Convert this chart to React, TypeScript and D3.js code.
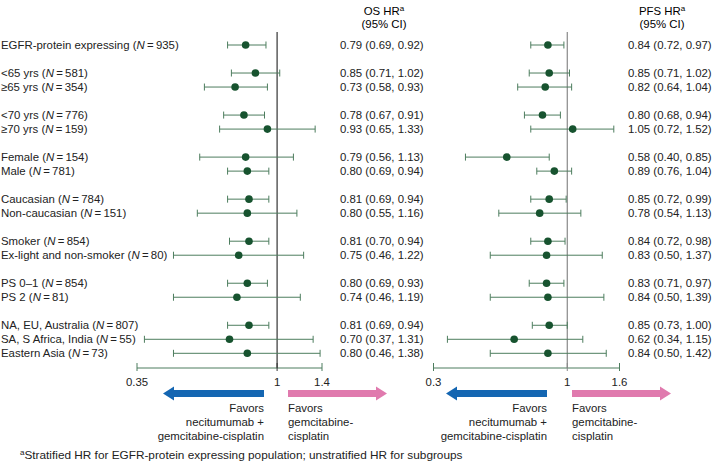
import React from "react";
import * as d3 from "d3";

// subgroup rows (slot = vertical position index, gaps between groups)
const labels = [
  "EGFR-protein expressing", "<65 yrs", "≥65 yrs", "<70 yrs", "≥70 yrs",
  "Female", "Male", "Caucasian", "Non-caucasian", "Smoker",
  "Ex-light and non-smoker", "PS 0–1", "PS 2", "NA, EU, Australia",
  "SA, S Africa, India", "Eastern Asia",
];
const nValues = [935, 581, 354, 776, 159, 154, 781, 784, 151, 854, 80, 854, 81, 807, 55, 73];
const slots = [0, 2, 3, 5, 6, 8, 9, 11, 12, 14, 15, 17, 18, 20, 21, 22];

const osHR = [0.79, 0.85, 0.73, 0.78, 0.93, 0.79, 0.80, 0.81, 0.80, 0.81, 0.75, 0.80, 0.74, 0.81, 0.70, 0.80];
const osLow = [0.69, 0.71, 0.58, 0.67, 0.65, 0.56, 0.69, 0.69, 0.55, 0.70, 0.46, 0.69, 0.46, 0.69, 0.37, 0.46];
const osHigh = [0.92, 1.02, 0.93, 0.91, 1.33, 1.13, 0.94, 0.94, 1.16, 0.94, 1.22, 0.93, 1.19, 0.94, 1.31, 1.38];

const pfsHR = [0.84, 0.85, 0.82, 0.80, 1.05, 0.58, 0.89, 0.85, 0.78, 0.84, 0.83, 0.83, 0.84, 0.85, 0.62, 0.84];
const pfsLow = [0.72, 0.71, 0.64, 0.68, 0.72, 0.40, 0.76, 0.72, 0.54, 0.72, 0.50, 0.71, 0.50, 0.73, 0.34, 0.50];
const pfsHigh = [0.97, 1.02, 1.04, 0.94, 1.52, 0.85, 1.04, 0.99, 1.13, 0.98, 1.37, 0.97, 1.39, 1.00, 1.15, 1.42];

const osTicks = [0.35, 1, 1.4];
const pfsTicks = [0.3, 1, 1.6];

const FONT = "'Liberation Sans', Arial, Helvetica, sans-serif";
const FS = 11.4;
const BAR = "#4d7d5e";
const DOT = "#17532f";
const BLUE = "#1466b2";
const PINK = "#e07aae";

const y = d3.scaleLinear().domain([0, 22]).range([45, 353.3]);
const axisY = 368;
const fmt = (v: number) => v.toFixed(2);

const Arrow = ({ x0, x1, yc, color }: { x0: number; x1: number; yc: number; color: string }) => {
  const dir = x1 > x0 ? 1 : -1;
  const head = 11;
  const bh = 3.5;
  const hh = 7;
  const xb = x1 - dir * head;
  const d = `M${x0},${yc - bh}L${xb},${yc - bh}L${xb},${yc - hh}L${x1},${yc}L${xb},${yc + hh}L${xb},${yc + bh}L${x0},${yc + bh}Z`;
  return <path d={d} fill={color} />;
};

interface PanelProps {
  x: d3.ScaleLogarithmic<number, number>;
  hr: number[];
  low: number[];
  high: number[];
  ticks: number[];
  refColor: string;
  textX: number;
  title: string;
  titleX: number;
  blue: [number, number];
  pink: [number, number];
}

const Panel = ({ x, hr, low, high, ticks, refColor, textX, title, titleX, blue, pink }: PanelProps) => {
  const [d0, d1] = x.domain();
  return (
    <g>
      <text x={titleX} y={15} textAnchor="middle" fontSize={FS}>
        {title}
        <tspan fontSize={8} dy={-4}>a</tspan>
      </text>
      <text x={titleX} y={28} textAnchor="middle" fontSize={FS}>(95% CI)</text>
      <line x1={x(1)} x2={x(1)} y1={32} y2={axisY} stroke={refColor} strokeWidth={1.2} />
      {hr.map((v, i) => {
        const cy = y(slots[i]);
        return (
          <g key={i}>
            <line x1={x(low[i])} x2={x(high[i])} y1={cy} y2={cy} stroke={BAR} strokeWidth={1} />
            <line x1={x(low[i])} x2={x(low[i])} y1={cy - 3.5} y2={cy + 3.5} stroke={BAR} strokeWidth={1} />
            <line x1={x(high[i])} x2={x(high[i])} y1={cy - 3.5} y2={cy + 3.5} stroke={BAR} strokeWidth={1} />
            <circle cx={x(v)} cy={cy} r={3.8} fill={DOT} />
            <text x={textX} y={cy + 4} fontSize={FS} fill="#222">
              {`${fmt(v)} (${fmt(low[i])}, ${fmt(high[i])})`}
            </text>
          </g>
        );
      })}
      <line x1={x(d0)} x2={x(d1)} y1={axisY} y2={axisY} stroke={BAR} strokeWidth={1} />
      {ticks.map((t) => (
        <g key={t}>
          <line x1={x(t)} x2={x(t)} y1={axisY - 5} y2={axisY + 3} stroke={t === 1 ? refColor : BAR} strokeWidth={1} />
          <text x={x(t)} y={386} textAnchor="middle" fontSize={FS} fill="#222">{String(t)}</text>
        </g>
      ))}
      <Arrow x0={blue[1]} x1={blue[0]} yc={393.5} color={BLUE} />
      <Arrow x0={pink[0]} x1={pink[1]} yc={393.5} color={PINK} />
      <g fontSize={FS} fill="#222">
        <text x={blue[1]} y={412} textAnchor="end">Favors</text>
        <text x={blue[1]} y={426} textAnchor="end">necitumumab +</text>
        <text x={blue[1]} y={440} textAnchor="end">gemcitabine-cisplatin</text>
        <text x={pink[0]} y={412}>Favors</text>
        <text x={pink[0]} y={426}>gemcitabine-</text>
        <text x={pink[0]} y={440}>cisplatin</text>
      </g>
    </g>
  );
};

const App = () => {
  const xOS = d3.scaleLog().domain([0.35, 1.4]).range([137, 322]);
  const xPFS = d3.scaleLog().domain([0.3, 1.6]).range([433.5, 619.5]);
  return (
    <svg
      width={713}
      height={462}
      style={{ position: "absolute", left: 0, top: 0, background: "#fff" }}
      fontFamily={FONT}
    >
      {labels.map((l, i) => (
        <text key={l} x={1} y={y(slots[i]) + 4} fontSize={FS} fill="#222">
          {`${l} (`}
          <tspan fontStyle="italic">N</tspan>
          {`\u2009=\u2009${nValues[i]})`}
        </text>
      ))}
      <Panel
        x={xOS}
        hr={osHR}
        low={osLow}
        high={osHigh}
        ticks={osTicks}
        refColor="#333"
        textX={340}
        title="OS HR"
        titleX={384}
        blue={[163, 264]}
        pink={[288, 387]}
      />
      <Panel
        x={xPFS}
        hr={pfsHR}
        low={pfsLow}
        high={pfsHigh}
        ticks={pfsTicks}
        refColor="#888"
        textX={628}
        title="PFS HR"
        titleX={662}
        blue={[446, 547]}
        pink={[572, 671]}
      />
      <text x={20} y={459} fontSize={11.8} fill="#222">
        <tspan fontSize={8} dy={-4}>a</tspan>
        <tspan dy={4}>Stratified HR for EGFR-protein expressing population; unstratified HR for subgroups</tspan>
      </text>
    </svg>
  );
};

export default App;
